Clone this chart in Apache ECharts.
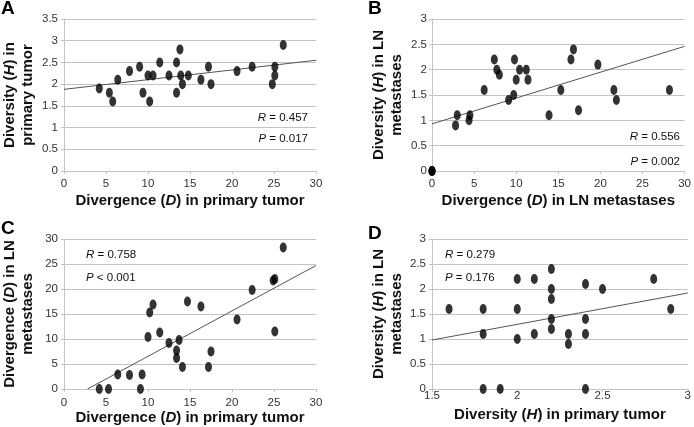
<!DOCTYPE html>
<html><head><meta charset="utf-8">
<script src="https://cdn.jsdelivr.net/npm/echarts@6/dist/echarts.min.js"></script>
<style>html,body{margin:0;padding:0;background:#fff}#c{width:694px;height:427px}</style>
</head><body><div id="c"></div>
<script>
// Panel A: divergence (primary) vs diversity (primary)
const aX = [4.2,5.4,5.8,6.4,7.8,9.0,9.4,10.0,10.2,10.6,11.4,12.5,13.4,13.4,13.8,13.9,14.1,14.8,16.3,17.2,17.5,20.6,22.4,25.1,25.1,24.8,26.1];
const aY = [1.9,1.8,1.6,2.1,2.3,2.4,1.8,2.2,1.6,2.2,2.5,2.2,2.5,1.8,2.8,2.2,2.0,2.2,2.1,2.4,2.0,2.3,2.4,2.4,2.2,2.0,2.9];
const aTrendX = [0,30];
const aTrendY = [1.88,2.55];
// Panel B: divergence (LN) vs diversity (LN)
const bX = [0,0,0,2.8,3.0,4.4,4.5,6.2,7.4,7.7,8.0,9.1,9.7,9.8,10.0,10.4,11.2,11.4,13.9,15.3,16.5,16.8,17.4,19.7,21.6,21.9,28.2];
const bY = [0,0,0,0.9,1.1,1.0,1.1,1.6,2.2,2.0,1.9,1.4,1.5,2.2,1.8,2.0,2.0,1.8,1.1,1.6,2.2,2.4,1.2,2.1,1.6,1.4,1.6];
const bTrendX = [0,30];
const bTrendY = [0.93,2.46];
// Panel C: divergence (primary) vs divergence (LN)
const cX = [4.2,5.3,6.4,7.8,9.1,9.3,10.0,10.2,10.6,11.4,12.5,13.4,13.4,13.7,14.1,14.7,16.3,17.2,17.5,20.6,22.4,24.9,25.1,25.1,26.1];
const cY = [0,0,2.9,2.8,0,2.9,10.4,15.3,16.9,11.3,9.2,7.7,6.2,9.8,4.4,17.5,16.5,4.4,7.5,13.9,19.8,21.7,22.0,11.5,28.3];
const cTrendX = [2.8,30];
const cTrendY = [0,24.7];
// Panel D: diversity (primary) vs diversity (LN)
const dX = [1.6,1.8,1.8,1.8,1.9,2.0,2.0,2.0,2.1,2.1,2.2,2.2,2.2,2.2,2.2,2.3,2.3,2.4,2.4,2.4,2.4,2.5,2.8,2.9];
const dY = [1.6,1.6,1.1,0,0,2.2,1.6,1.0,2.2,1.1,2.4,2.0,1.8,1.4,1.2,1.1,0.9,2.1,1.4,1.1,0,2.0,2.2,1.6];
const dTrendX = [1.5,3];
const dTrendY = [0.98,1.92];

const panelLetters = ['A','B','C','D'];
const statR = ['0.457','0.556','0.758','0.279'];
const statP = ['= 0.017','= 0.002','< 0.001','= 0.176'];

const FONT = 'Liberation Sans, Arial, Helvetica, sans-serif';
const GRID_C = '#c3c3c3';
const titleRich = {
  b: {fontFamily: FONT, fontSize: 15, fontWeight: 'bold', color: '#111', lineHeight: 18},
  bi: {fontFamily: FONT, fontSize: 15, fontWeight: 'bold', fontStyle: 'italic', color: '#111', lineHeight: 18}
};
function zip(xs, ys){ return xs.map((x,i)=>[x, ys[i]]); }

function xAx(idx, min, max, interval, name, margin, gap){
  return {
    gridIndex: idx, type: 'value', min, max, interval,
    name, nameLocation: 'middle', nameGap: gap,
    nameTextStyle: {rich: titleRich},
    axisLine: {show: true, lineStyle: {color: GRID_C, width: 1}},
    axisTick: {show: true, length: 3, lineStyle: {color: GRID_C}},
    axisLabel: {color: '#333', fontSize: 11.5, fontFamily: FONT, margin: margin,
      formatter: v => String(+v.toFixed(2))},
    splitLine: {show: false}
  };
}
function yAx(idx, min, max, interval, name, gap, margin){
  return {
    gridIndex: idx, type: 'value', min, max, interval,
    name, nameLocation: 'middle', nameGap: gap, nameRotate: 90,
    nameTextStyle: {rich: titleRich},
    axisLine: {show: true, lineStyle: {color: GRID_C, width: 1}},
    axisTick: {show: true, length: 3, lineStyle: {color: GRID_C}},
    axisLabel: {color: '#333', fontSize: 11.5, fontFamily: FONT, margin: margin,
      formatter: v => String(+v.toFixed(2))},
    splitLine: {show: true, lineStyle: {color: GRID_C, width: 1}}
  };
}
function scat(idx, xs, ys){
  return {type: 'scatter', xAxisIndex: idx, yAxisIndex: idx, data: zip(xs, ys),
    symbol: 'circle', symbolSize: [7,10], itemStyle: {color: '#000'}, clip: false,
    z: 3, silent: true, animation: false};
}
function trend(idx, xs, ys){
  return {type: 'line', xAxisIndex: idx, yAxisIndex: idx, data: zip(xs, ys),
    showSymbol: false, symbol: 'none', lineStyle: {color: '#555', width: 1},
    z: 2, silent: true, animation: false};
}
const statStyle = {fontFamily: FONT, fontSize: 11.5, fill: '#111',
  rich: {i: {fontFamily: FONT, fontSize: 11.5, fontStyle: 'italic', color: '#111'},
         n: {fontFamily: FONT, fontSize: 11.5, color: '#111'}}};
function statText(x, y, align, label, val){
  return {type: 'text', x, y, style: Object.assign({}, statStyle,
    {text: '{i|' + label + '}{n| ' + val + '}', align: align, verticalAlign: 'middle'})};
}
function letter(x, y, t){
  return {type: 'text', x, y, style: {text: t, fontFamily: FONT, fontSize: 19, fontWeight: 'bold', fill: '#000', verticalAlign: 'top'}};
}

const option = {
  animation: false,
  backgroundColor: '#fff',
  grid: [
    {left: 64, top: 19, width: 252, height: 152},
    {left: 432, top: 19, width: 256, height: 152},
    {left: 64, top: 239, width: 252, height: 150},
    {left: 432, top: 239, width: 256, height: 150}
  ],
  xAxis: [
    xAx(0, 0, 30, 5, '{b|Divergence (}{bi|D}{b|) in primary tumor}', 7, 21),
    xAx(1, 0, 30, 5, '{b|Divergence (}{bi|D}{b|) in LN metastases}', 7, 21),
    xAx(2, 0, 30, 5, '{b|Divergence (}{bi|D}{b|) in primary tumor}', 8, 17),
    xAx(3, 1.5, 3, 0.5, '{b|Diversity (}{bi|H}{b|) in primary tumor}', 1, 17)
  ],
  yAxis: [
    yAx(0, 0, 3.5, 0.5, '{b|Diversity (}{bi|H}{b|) in}\n{b|primary tumor}', 27, 6),
    yAx(1, 0, 3, 0.5, '{b|Diversity (}{bi|H}{b|) in LN}\n{b|metastases}', 26, 5),
    yAx(2, 0, 30, 5, '{b|Divergence (}{bi|D}{b|) in LN}\n{b|metastases}', 27, 6),
    yAx(3, 0, 3, 0.5, '{b|Diversity (}{bi|H}{b|) in LN}\n{b|metastases}', 26, 6)
  ],
  series: [
    trend(0, aTrendX, aTrendY), scat(0, aX, aY),
    trend(1, bTrendX, bTrendY), scat(1, bX, bY),
    trend(2, cTrendX, cTrendY), scat(2, cX, cY),
    trend(3, dTrendX, dTrendY), scat(3, dX, dY)
  ],
  graphic: [
    letter(1, -1, panelLetters[0]),
    letter(368, -1, panelLetters[1]),
    letter(1, 219, panelLetters[2]),
    letter(368, 224, panelLetters[3]),
    statText(308, 118, 'right', 'R', '= ' + statR[0]),
    statText(308, 139, 'right', 'P', statP[0]),
    statText(680, 137, 'right', 'R', '= ' + statR[1]),
    statText(680, 162, 'right', 'P', statP[1]),
    statText(86, 255, 'left', 'R', '= ' + statR[2]),
    statText(86, 278, 'left', 'P', statP[2]),
    statText(445, 255, 'left', 'R', '= ' + statR[3]),
    statText(445, 278, 'left', 'P', statP[3])
  ]
};
const chart = echarts.init(document.getElementById('c'), null, {renderer: 'canvas'});
chart.setOption(option);
</script>
</body></html>
